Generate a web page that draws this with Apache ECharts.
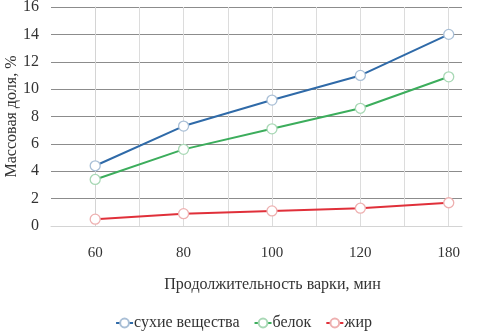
<!DOCTYPE html>
<html><head><meta charset="utf-8">
<script src="https://cdn.jsdelivr.net/npm/echarts@6/dist/echarts.min.js"></script>
<style>html,body{margin:0;padding:0;background:#fff}#c{width:487px;height:332px}</style>
</head><body><div id="c"></div>
<script>
const categories = ['60', '80', '100', '120', '180'];
const dryMatter = [4.4, 7.3, 9.2, 11.0, 14.0];
const protein = [3.4, 5.6, 7.1, 8.6, 10.9];
const fat = [0.5, 0.9, 1.1, 1.3, 1.7];
const seriesNames = ['сухие вещества', 'белок', 'жир'];
const yTicks = [0, 2, 4, 6, 8, 10, 12, 14, 16];

const font = '"Liberation Serif", "DejaVu Serif", serif';
function pts(arr){ return arr.map((v,i)=>[i,v]); }
const colors = ['#2f6aa8', '#3cad5c', '#e0303a'];
const borders = ['#a9bfd6', '#a8d8b5', '#eeb0b0'];
const chart = echarts.init(document.getElementById('c'));
chart.setOption({
  animation:false,
  textStyle:{fontFamily:font},
  grid:{left:51,right:25,top:7,bottom:106,containLabel:false,outerBoundsMode:'none'},
  xAxis:{type:'value',min:-0.5,max:4.15,interval:0.5,
    axisLine:{show:true,lineStyle:{color:'#d4d4d4'}},
    axisTick:{show:false},
    axisLabel:{fontFamily:font,fontSize:15,color:'#333',margin:20,
      formatter:v=>Number.isInteger(v)&&v>=0&&v<categories.length?categories[v]:''},
    splitLine:{show:true,showMinLine:false,showMaxLine:false,lineStyle:{color:'#dcdcdc'}},
    name:'Продолжительность варки, мин',nameLocation:'middle',nameGap:51,nameMoveOverlap:false,
    nameTextStyle:{fontFamily:font,fontSize:16,color:'#333',padding:[0,0,0,32]}
  },
  yAxis:{type:'value',min:yTicks[0],max:yTicks[yTicks.length-1],interval:2,
    axisLine:{show:true,lineStyle:{color:'#d4d4d4'}},
    axisTick:{show:false},
    axisLabel:{fontFamily:font,fontSize:16,color:'#333',margin:12},
    splitLine:{show:true,showMinLine:false,lineStyle:{color:'#8c8c8c'}},
    name:'Массовая доля, %',nameLocation:'middle',nameGap:31,nameMoveOverlap:false,
    nameTextStyle:{fontFamily:font,fontSize:16,color:'#333'}
  },
  legend:{bottom:1,left:'center',padding:0,itemWidth:17,itemHeight:11,itemGap:14,
    textStyle:{fontFamily:font,fontSize:16,color:'#333',padding:[0,0,0,-4]},
    data:seriesNames},
  series:[dryMatter,protein,fat].map((d,i)=>({
    name:seriesNames[i],type:'line',data:pts(d),
    symbol:'circle',symbolSize:10,
    lineStyle:{color:colors[i],width:2},
    itemStyle:{color:'#fff',borderColor:borders[i],borderWidth:1.3},
    color:colors[i]
  }))
});
</script></body></html>
